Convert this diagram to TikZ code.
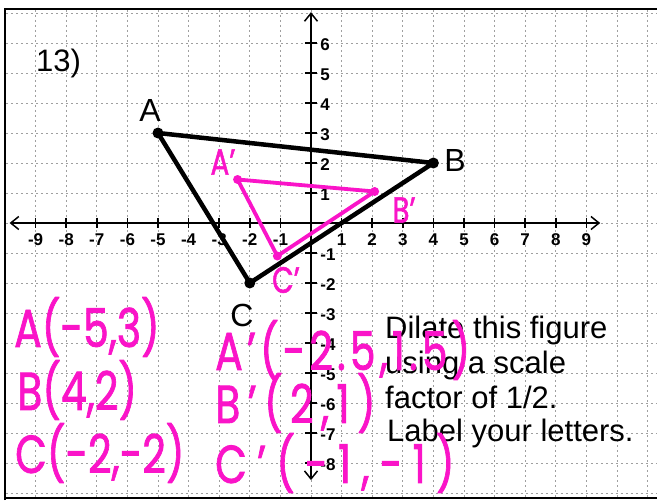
\documentclass[tikz,border=0pt]{standalone}
\usepackage{fontspec}
\usepackage{graphicx}
\setmainfont{Liberation Sans}
\newfontfamily\hand{Poppins}[FakeBold=1.6]
\usetikzlibrary{arrows.meta}
\definecolor{mag}{RGB}{250,20,200}
\newcommand{\hwtext}[2]{\scalebox{1}[1.3]{\addfontfeatures{LetterSpace=#1}#2}}
\begin{document}
\begin{tikzpicture}[x=1pt,y=-1pt,
  gridline/.style={gray!75, line width=0.9pt, dash pattern=on 2pt off 3pt},
  frameline/.style={black, line width=2.5pt},
  axisline/.style={black, line width=2pt, {Straight Barb[length=8pt,width=13pt,line width=1.5pt]}-{Straight Barb[length=8pt,width=13pt,line width=1.5pt]}},
  tickline/.style={black, line width=1.5pt},
  tri/.style={black, line width=4.5pt, line join=round},
  dil/.style={mag, line width=3.8pt, line join=round, line cap=round},
  tlab/.style={font=\fontsize{17}{17}\selectfont\bfseries, inner sep=0pt},
  hw/.style={text=mag, font=\hand\fontsize{41}{41}\selectfont, inner sep=0pt},
  hws/.style={text=mag, font=\hand\fontsize{28}{28}\selectfont, inner sep=0pt},
  prt/.style={font=\fontsize{31}{31}\selectfont, inner sep=0pt},
  vlab/.style={font=\fontsize{32}{32}\selectfont, inner sep=0pt},
]
\useasboundingbox (0,0) rectangle (657,503);
\fill[white] (0,0) rectangle (657,503);

\begin{scope}[shift={(311pt,-223pt)}, x=30.6pt, y=30pt]
  % grid
  \foreach \i in {-9,...,11} \draw[gridline] (\i,7.1) -- (\i,-9.17);
  \foreach \j in {-9,...,7} \draw[gridline] (-9.97,\j) -- (11.31,\j);
  % axes
  \coordinate (xl) at (-9.85,0);
  \coordinate (xr) at (9.45,0);
  \coordinate (yt) at (0,7.03);
  \coordinate (yb) at (0,-8.57);
  \draw[axisline] (xl) -- (xr);
  \draw[axisline] (yb) -- (yt);
  % ticks and labels
  \foreach \i in {-9,...,-1,1,2,...,9} {
    \draw[tickline] (\i,0.18) -- (\i,-0.18);
    \node[tlab] (xlab\i) at (\i,-0.55) {\i};
  }
  \foreach \j in {-8,...,-1,1,2,...,6} {
    \draw[tickline] (-0.2,\j) -- (0.2,\j);
    \node[tlab, anchor=west] (ylab\j) at (0.3,\j-0.05) {\j};
  }
  % original triangle
  \coordinate (A) at (-5,3);
  \coordinate (B) at (4,2);
  \coordinate (C) at (-2,-2);
  \draw[tri] (A) -- (B) -- (C) -- cycle;
  \fill (A) circle (5.5pt);
  \fill (B) circle (5.5pt);
  \fill (C) circle (5.5pt);
  % dilated triangle
  \coordinate (A1) at (-2.4,1.45);
  \coordinate (B1) at (2.08,1.05);
  \coordinate (C1) at (-1.1,-1.1);
  \draw[dil] (A1) -- (B1) -- (C1) -- cycle;
  \fill[mag] (A1) circle (4.5pt);
  \fill[mag] (B1) circle (4.5pt);
  \fill[mag] (C1) circle (4.5pt);
\end{scope}

% frame
\draw[frameline] (5,500) -- (5,9) -- (657,9);
\draw[frameline] (5,498) -- (657,498);

% printed text
\node[prt, anchor=base west] (num) at (36,72) {13)};
\node[vlab] (la) at (150,110) {A};
\node[vlab] (lb) at (455,160) {B};
\node[vlab] (lc) at (242,315) {C};
\node[prt, anchor=base west] (t1) at (385,338) {Dilate this figure};
\node[prt, anchor=base west] (t2) at (385,373) {using a scale};
\node[prt, anchor=base west] (t3) at (385,408) {factor of 1/2.};
\node[prt, anchor=base west] (t4) at (387,441) {Label your letters.};

% handwriting
\node[hws] (ha) at (223,162) {\hwtext{0}{A’}};
\node[hws] (hb) at (404,210) {\hwtext{0}{B’}};
\node[hws] (hc) at (286,280) {\hwtext{0}{C’}};
\node[hw, anchor=west] (w1) at (14,327) {\hwtext{0}{A(-5,3)}};
\node[hw, anchor=west] (w2) at (17,390) {\hwtext{0}{B(4,2)}};
\node[hw, anchor=west] (w3) at (15,453) {\hwtext{0}{C(-2,-2)}};
\node[hw, anchor=west] (w4) at (215,350) {\hwtext{10}{A’(-2.5,1.5)}};
\node[hw, anchor=west] (w5) at (215,403) {\hwtext{18}{B’(2,1)}};
\node[hw, anchor=west] (w6) at (215,463) {\hwtext{25}{C’(-1,-1)}};
\end{tikzpicture}
\end{document}
